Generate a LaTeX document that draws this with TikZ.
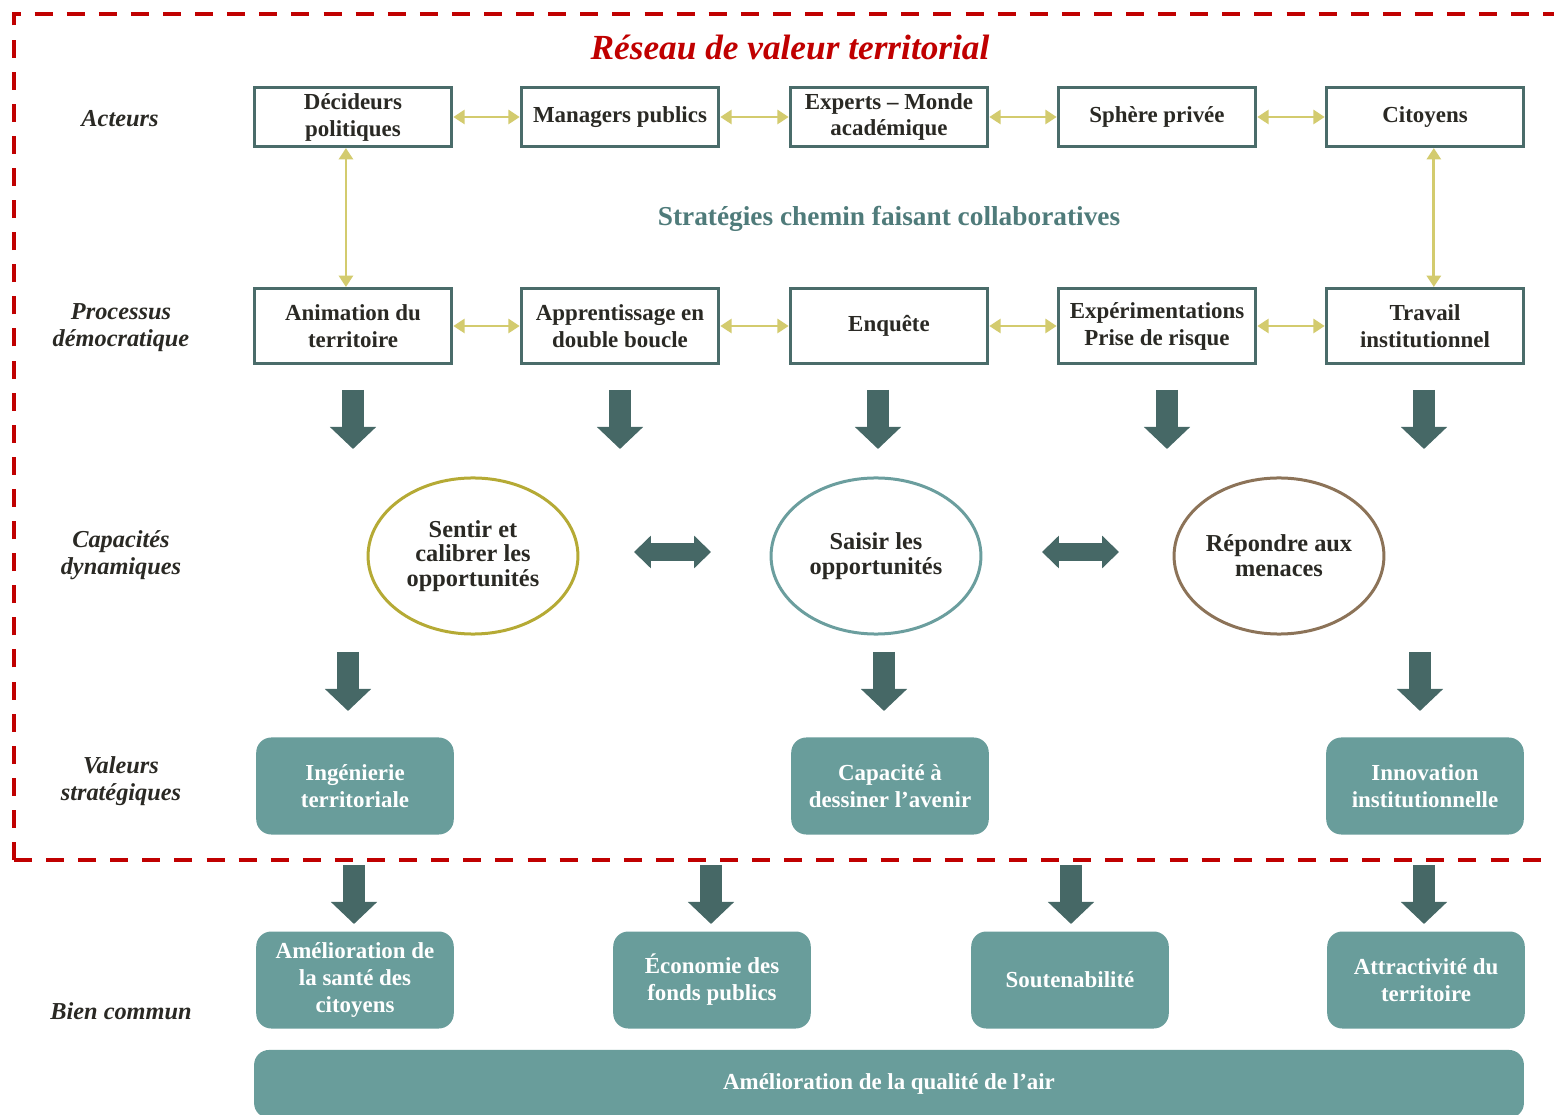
\documentclass[tikz,border=0pt]{standalone}
\usepackage{fontspec}
\setmainfont{Liberation Serif}
\usetikzlibrary{arrows.meta,shapes.geometric}
\definecolor{ink}{HTML}{2A2924}
\definecolor{boxline}{HTML}{4A6C6A}
\definecolor{darkteal}{HTML}{466866}
\definecolor{softteal}{HTML}{699D9B}
\definecolor{midteal}{HTML}{4F7B7A}
\definecolor{khaki}{HTML}{D3CB6E}
\definecolor{olivering}{HTML}{B5AA35}
\definecolor{tealring}{HTML}{6B9E9E}
\definecolor{brownring}{HTML}{8C7358}
\definecolor{framered}{HTML}{C00000}
\tikzset{
  txt/.style={font=\fontsize{13}{15.3}\selectfont\bfseries, align=center},
  rowlab/.style={txt, font=\fontsize{13.8}{15.3}\selectfont\bfseries\itshape, text=ink},
  actbox/.style={txt, draw=boxline, line width=1.7pt, text=ink, fill=white,
    minimum width=112pt, minimum height=33.5pt, inner sep=1pt},
  procbox/.style={actbox, minimum height=42.5pt},
  capa/.style={txt, ellipse, line width=1.7pt, text=ink,
    minimum width=119pt, minimum height=88.5pt, inner sep=0pt,
    font=\fontsize{13.8}{14}\selectfont\bfseries},
  valbox/.style={txt, fill=softteal, text=white, rounded corners=8.5pt,
    minimum width=112pt, minimum height=55pt, inner sep=1pt},
  link/.style={draw=khaki, line width=1.6pt, {Triangle[width=8pt,length=6.5pt]}-{Triangle[width=8pt,length=6.5pt]}},
  blk/.style={draw=darkteal, line width=12.5pt, -{Triangle[width=25.5pt,length=12.5pt]}},
  dblk/.style={draw=darkteal, line width=10.2pt, {Triangle[width=18pt,length=9.6pt]}-{Triangle[width=18pt,length=9.6pt]}},
  frame/.style={draw=framered, line width=2.3pt, dash pattern=on 10.2pt off 8pt}
}
\begin{document}
\begin{tikzpicture}[x=0.567pt,y=-0.567pt]
\clip (0,0) rectangle (1554,1115);
% cadre du reseau
\draw[frame] (14,860) -- (14,14) -- (1600,14);
\draw[frame] (14,860) -- (1600,860);
\node[txt, font=\fontsize{20}{22}\selectfont\bfseries\itshape, text=framered] (titre) at (790,47) {Réseau de valeur territorial};

% niveaux
\node[rowlab] (l1) at (120,119)  {Acteurs};
\node[rowlab] (l2) at (121,328)  {Processus\\démocratique};
\node[rowlab] (l3) at (121,555)  {Capacités\\dynamiques};
\node[rowlab] (l4) at (121,781)  {Valeurs\\stratégiques};
\node[rowlab] (l5) at (121,1011) {Bien commun};

% acteurs
\node[actbox] (a1) at (353,117)  {Décideurs\\politiques};
\node[actbox] (a2) at (620,117)  {Managers publics};
\node[actbox] (a3) at (889,117)  {Experts -- Monde\\académique};
\node[actbox] (a4) at (1157,117) {Sphère privée};
\node[actbox] (a5) at (1425,117) {Citoyens};
\draw[link] (a1) -- (a2);
\draw[link] (a2) -- (a3);
\draw[link] (a3) -- (a4);
\draw[link] (a4) -- (a5);

\node[txt, font=\fontsize{15.5}{18}\selectfont\bfseries, text=midteal] (strat) at (889,219) {Stratégies chemin faisant collaboratives};

% processus
\node[procbox] (p1) at (353,326)  {Animation du\\territoire};
\node[procbox] (p2) at (620,326)  {Apprentissage en\\double boucle};
\node[procbox] (p3) at (889,326)  {Enquête};
\node[procbox] (p4) at (1157,326) {Expérimentations\\Prise de risque};
\node[procbox] (p5) at (1425,326) {Travail\\institutionnel};
\draw[link] (p1) -- (p2);
\draw[link] (p2) -- (p3);
\draw[link] (p3) -- (p4);
\draw[link] (p4) -- (p5);
\draw[link] ([xshift=-4pt]a1.south) -- ([xshift=-4pt]p1.north);
\draw[link] ([xshift=5pt]a5.south) -- ([xshift=5pt]p5.north);

\draw[blk] (353,390) -- (353,449);
\draw[blk] (620,390) -- (620,449);
\draw[blk] (878,390) -- (878,449);
\draw[blk] (1167,390) -- (1167,449);
\draw[blk] (1424,390) -- (1424,449);

% capacites
\node[capa, draw=olivering] (c1) at (473,556)  {Sentir et\\calibrer les\\opportunités};
\node[capa, draw=tealring]  (c2) at (876,556)  {Saisir les\\opportunités};
\node[capa, draw=brownring] (c3) at (1279,556) {Répondre aux\\menaces};
\draw[dblk] (634,552) -- (711,552);
\draw[dblk] (1042,552) -- (1119,552);

\draw[blk] (348,652) -- (348,711);
\draw[blk] (884,652) -- (884,711);
\draw[blk] (1420,652) -- (1420,711);

% valeurs
\node[valbox] (v1) at (355,786)  {Ingénierie\\territoriale};
\node[valbox] (v2) at (890,786)  {Capacité à\\dessiner l’avenir};
\node[valbox] (v3) at (1425,786) {Innovation\\institutionnelle};

\draw[blk] (354,865) -- (354,924);
\draw[blk] (711,865) -- (711,924);
\draw[blk] (1071,865) -- (1071,924);
\draw[blk] (1424,865) -- (1424,924);

% bien commun
\node[valbox] (b1) at (355,980)  {Amélioration de\\la santé des\\citoyens};
\node[valbox] (b2) at (712,980)  {Économie des\\fonds publics};
\node[valbox] (b3) at (1070,980) {Soutenabilité};
\node[valbox] (b4) at (1426,980) {Attractivité du\\territoire};
\node[valbox, minimum width=720pt, minimum height=38.6pt] (air) at (889,1084) {Amélioration de la qualité de l’air};
\end{tikzpicture}
\end{document}
